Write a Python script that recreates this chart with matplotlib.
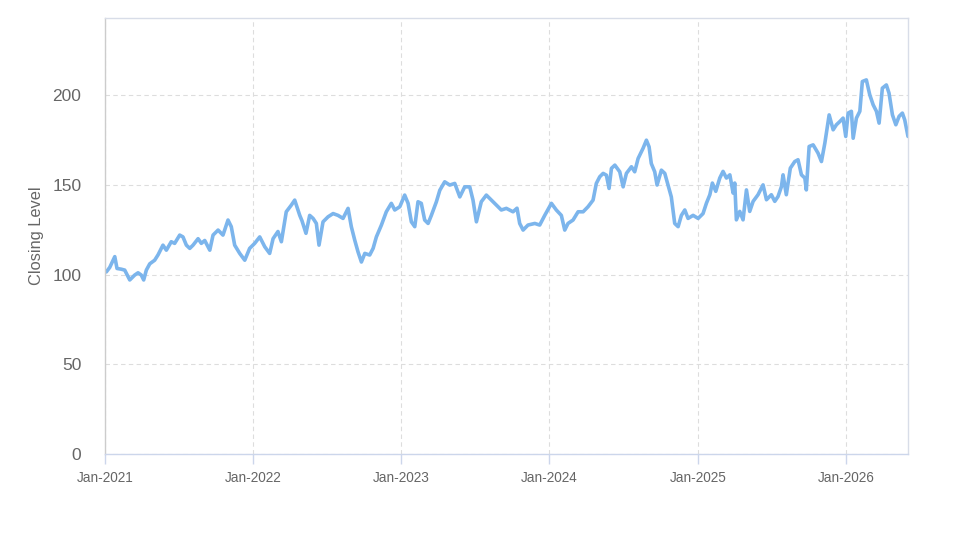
import matplotlib
matplotlib.use("Agg")
import matplotlib.pyplot as plt
import matplotlib.dates as mdates
import numpy as np
import datetime as dt

# Time as years elapsed since 1 Jan 2021, with closing levels
years_since_2021 = [
    0.000, 0.009, 0.032, 0.066, 0.081, 0.110, 0.133, 0.167, 0.200, 0.223, 0.245, 0.261,
    0.279, 0.302, 0.335, 0.358, 0.391, 0.414, 0.447, 0.470, 0.504, 0.526, 0.549, 0.572,
    0.594, 0.628, 0.650, 0.673, 0.707, 0.729, 0.763, 0.796, 0.830, 0.852, 0.875, 0.909,
    0.943, 0.976, 1.010, 1.044, 1.078, 1.111, 1.134, 1.167, 1.190, 1.223, 1.257, 1.280,
    1.314, 1.329, 1.356, 1.381, 1.404, 1.426, 1.444, 1.471, 1.505, 1.539, 1.572, 1.606,
    1.640, 1.662, 1.685, 1.707, 1.730, 1.753, 1.786, 1.809, 1.831, 1.865, 1.898, 1.932,
    1.955, 1.989, 2.022, 2.045, 2.067, 2.090, 2.112, 2.134, 2.157, 2.180, 2.202, 2.236,
    2.259, 2.292, 2.326, 2.360, 2.394, 2.427, 2.461, 2.483, 2.506, 2.539, 2.573, 2.607,
    2.641, 2.674, 2.708, 2.753, 2.780, 2.798, 2.821, 2.854, 2.900, 2.933, 2.967, 3.012,
    3.045, 3.079, 3.102, 3.124, 3.158, 3.192, 3.226, 3.259, 3.293, 3.315, 3.338, 3.361,
    3.383, 3.401, 3.417, 3.440, 3.473, 3.496, 3.518, 3.552, 3.574, 3.597, 3.630, 3.653,
    3.671, 3.686, 3.709, 3.725, 3.754, 3.777, 3.799, 3.821, 3.844, 3.867, 3.889, 3.912,
    3.934, 3.968, 4.002, 4.035, 4.058, 4.081, 4.098, 4.121, 4.148, 4.170, 4.193, 4.216,
    4.238, 4.249, 4.260, 4.283, 4.305, 4.328, 4.350, 4.373, 4.406, 4.440, 4.463, 4.496,
    4.519, 4.541, 4.564, 4.575, 4.597, 4.624, 4.654, 4.676, 4.699, 4.722, 4.732, 4.751,
    4.778, 4.811, 4.834, 4.857, 4.886, 4.913, 4.935, 4.958, 4.980, 4.998, 5.014, 5.036,
    5.048, 5.070, 5.093, 5.110, 5.137, 5.160, 5.183, 5.205, 5.223, 5.245, 5.272, 5.290,
    5.313, 5.336, 5.358, 5.380, 5.396, 5.418,
]
closing_level = [
    102.0, 101.5, 104.0, 110.0, 103.4, 103.0, 102.5, 97.0, 99.7, 101.0, 99.7, 97.0,
    102.5, 106.0, 108.0, 111.0, 116.4, 113.6, 118.3, 117.4, 122.0, 121.0, 116.4, 114.6,
    116.4, 120.0, 117.4, 119.0, 113.6, 122.0, 124.8, 122.0, 130.4, 126.7, 116.4, 111.8,
    108.0, 114.6, 117.4, 121.0, 115.5, 111.8, 120.0, 124.0, 118.3, 135.0, 138.7, 141.5,
    133.0, 130.0, 123.0, 133.0, 131.3, 128.5, 116.4, 129.4, 132.2, 134.0, 133.0, 131.3,
    136.9, 126.7, 119.2, 112.7, 107.0, 111.8, 110.9, 114.6, 121.0, 127.6, 135.0, 139.7,
    136.0, 137.8, 144.3, 139.7, 129.4, 126.7, 140.6, 139.7, 130.4, 128.5, 133.0, 140.6,
    147.0, 151.7, 149.9, 150.8, 143.3, 148.9, 148.9, 141.5, 129.4, 140.6, 144.3, 141.5,
    138.7, 136.0, 136.9, 135.0, 137.0, 128.5, 124.8, 127.6, 128.5, 127.6, 133.0, 139.7,
    136.0, 133.0, 124.8, 128.5, 130.4, 135.0, 135.0, 137.8, 141.5, 150.8, 154.5, 156.4,
    155.4, 148.0, 159.2, 161.0, 157.3, 148.9, 156.4, 160.1, 157.3, 164.7, 170.3, 174.9,
    171.2, 161.9, 157.3, 149.9, 158.2, 156.4, 149.9, 143.3, 128.5, 126.7, 133.0, 136.0,
    131.3, 133.0, 131.3, 134.0, 139.8, 144.5, 151.0, 146.4, 153.8, 157.5, 153.8, 155.6,
    145.4, 151.0, 130.5, 135.2, 130.5, 147.2, 135.2, 140.8, 144.5, 150.0, 141.7, 144.5,
    140.8, 143.5, 149.0, 155.6, 144.5, 159.3, 163.0, 164.0, 155.6, 153.8, 147.2, 171.4,
    172.3, 167.7, 163.0, 173.3, 189.0, 180.7, 183.5, 185.3, 187.2, 177.0, 190.0, 191.0,
    176.0, 187.2, 191.0, 207.6, 208.5, 200.2, 194.6, 191.0, 184.4, 203.9, 205.7, 201.1,
    189.0, 183.5, 188.2, 190.0, 186.2, 177.0,
]
year_ticks = [2021, 2022, 2023, 2024, 2025, 2026]
y_ticks = [0, 50, 100, 150, 200]
y_label = "Closing Level"

start = dt.datetime(2021, 1, 1)
dates = [start + dt.timedelta(days=t * 365.25) for t in years_since_2021]

plt.rcParams['font.family'] = ['Liberation Sans', 'DejaVu Sans']

fig = plt.figure(figsize=(9.73, 5.47), dpi=100)
ax = fig.add_axes([105/973, 1 - 454/547, (908-105)/973, (454-18)/547])

ax.plot(dates, closing_level, color='#7cb5ec', linewidth=2.6,
        solid_joinstyle='round', solid_capstyle='round')

ax.set_xlim(dates[0], dates[-1])
ax.set_ylim(0, 243)
ax.set_yticks(y_ticks)
ax.set_xticks([dt.datetime(y, 1, 1) for y in year_ticks])
ax.xaxis.set_major_formatter(mdates.DateFormatter('%b-%Y'))

ax.grid(True, color='#dddddd', linestyle=(0, (4, 3)), linewidth=0.8)
ax.set_axisbelow(True)

for side in ['top', 'right']:
    ax.spines[side].set_color('#d8dde8')
    ax.spines[side].set_linewidth(1.0)
ax.spines['left'].set_color('#cccccc')
ax.spines['left'].set_linewidth(1.0)
ax.spines['bottom'].set_color('#ccd6eb')
ax.spines['bottom'].set_linewidth(1.0)

ax.tick_params(axis='x', colors='#666666', labelsize=9.8, length=7, width=1,
               color='#ccd6eb', pad=5)
ax.tick_params(axis='y', colors='#666666', labelsize=12.5, length=0, pad=17)

ax.set_ylabel(y_label, fontsize=11.8, color='#666666', labelpad=6)

fig.savefig('out.png', dpi=100)
